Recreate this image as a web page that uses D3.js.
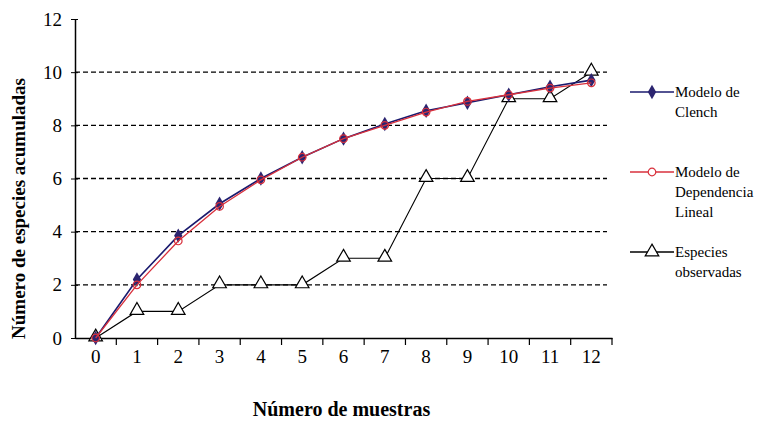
<!DOCTYPE html>
<html>
<head>
<meta charset="utf-8">
<title>Curvas de acumulación de especies</title>
<style type="text/css">
body { margin: 0; background: #fff; }
text { font-family: "Liberation Serif", "Times New Roman", serif; fill: #000; }
.axis path, .axis line { stroke: #000; }
.grid line { stroke: #000; stroke-dasharray: 5,3; stroke-width: 1.4px; }
</style>
<script src="https://cdn.jsdelivr.net/npm/d3@7"></script>
</head>
<body>
<svg width="769" height="429"></svg>
<script type="text/javascript">

// datos
var muestras = ["0","1","2","3","4","5","6","7","8","9","10","11","12"];
var clench = [0, 2.2, 3.85, 5.05, 6.0, 6.8, 7.5, 8.05, 8.55, 8.85, 9.15, 9.45, 9.7];
var lineal = [0, 2.0, 3.65, 4.95, 5.95, 6.8, 7.5, 8.0, 8.5, 8.9, 9.15, 9.4, 9.6];
var observadas = [0, 1, 1, 2, 2, 2, 3, 3, 6, 6, 9, 9, 10];
var yTicks = [0, 2, 4, 6, 8, 10, 12];

var svg = d3.select("svg"),
    margin = {top: 19, right: 157, bottom: 91, left: 75},
    width = svg.attr("width") - margin.left - margin.right,
    height = svg.attr("height") - margin.top - margin.bottom,
    g = svg.append("g").attr("transform", "translate(" + margin.left + "," + margin.top + ")");

var x = d3.scaleBand().domain(muestras).range([0, width]),
    y = d3.scaleLinear().domain([0, 12]).range([height, 0]);

function cx(d, i) { return x(muestras[i]) + x.bandwidth() / 2; }

// lineas de division
g.append("g")
  .attr("class", "grid")
  .selectAll("line")
  .data(yTicks.filter(function(d) { return d > 0 && d < 12; }))
  .enter().append("line")
  .attr("x1", 0)
  .attr("x2", width - 5)
  .attr("y1", function(d) { return y(d); })
  .attr("y2", function(d) { return y(d); });

// eje y
var yAxis = g.append("g")
  .attr("class", "axis")
  .call(d3.axisLeft(y).tickValues(yTicks).tickSizeInner(5).tickSizeOuter(0).tickPadding(8));
yAxis.selectAll("text").style("font-size", "19px");
yAxis.selectAll(".tick line").attr("x2", 3).attr("x1", -4);
yAxis.select(".domain").attr("stroke-width", 1.5);

// eje x
var xAxis = g.append("g")
  .attr("class", "axis")
  .attr("transform", "translate(0," + height + ")")
  .call(d3.axisBottom(x).tickSize(0).tickPadding(12));
xAxis.selectAll("text").style("font-size", "19px");
xAxis.select(".domain").attr("stroke-width", 1.5);
xAxis.selectAll(".sep")
  .data(muestras.slice(1).concat(["end"]))
  .enter().append("line")
  .attr("class", "sep")
  .attr("stroke", "#000")
  .attr("stroke-width", 1.2)
  .attr("x1", function(d, i) { return x.bandwidth() * (i + 1); })
  .attr("x2", function(d, i) { return x.bandwidth() * (i + 1); })
  .attr("y1", 0)
  .attr("y2", 7);

// titulos
svg.append("text")
  .attr("x", margin.left + width / 2 - 2)
  .attr("y", 416)
  .attr("text-anchor", "middle")
  .style("font-size", "20px")
  .style("font-weight", "bold")
  .text("Número de muestras");

svg.append("text")
  .attr("transform", "translate(25," + (margin.top + height / 2 + 30) + ") rotate(-90)")
  .attr("text-anchor", "middle")
  .style("font-size", "19px")
  .style("font-weight", "bold")
  .text("Número de especies acumuladas");

var line = d3.line()
  .x(function(d, i) { return cx(d, i); })
  .y(function(d) { return y(d); });

var diamond = d3.symbol().type(d3.symbolDiamond).size(60),
    circle = d3.symbol().type(d3.symbolCircle).size(45),
    triangle = d3.symbol().type(d3.symbolTriangle).size(80);

// especies observadas
g.append("path").datum(observadas)
  .attr("fill", "none").attr("stroke", "#000").attr("stroke-width", 1.1)
  .attr("d", line);
g.selectAll(".tri").data(observadas).enter().append("path")
  .attr("class", "tri")
  .attr("transform", function(d, i) { return "translate(" + cx(d, i) + "," + (y(d) - 1) + ")"; })
  .attr("d", triangle)
  .attr("fill", "#fff").attr("stroke", "#000").attr("stroke-width", 1.2);

// modelo de Clench
g.append("path").datum(clench)
  .attr("fill", "none").attr("stroke", "#1a1a6e").attr("stroke-width", 1.6)
  .attr("d", line);
g.selectAll(".dia").data(clench).enter().append("path")
  .attr("class", "dia")
  .attr("transform", function(d, i) { return "translate(" + cx(d, i) + "," + y(d) + ")"; })
  .attr("d", diamond)
  .attr("fill", "#2b2470");

// modelo de dependencia lineal
g.append("path").datum(lineal)
  .attr("fill", "none").attr("stroke", "#d8303c").attr("stroke-width", 1.3)
  .attr("d", line);
g.selectAll(".cir").data(lineal).enter().append("path")
  .attr("class", "cir")
  .attr("transform", function(d, i) { return "translate(" + cx(d, i) + "," + y(d) + ")"; })
  .attr("d", circle)
  .attr("fill", "none").attr("stroke", "#d8303c").attr("stroke-width", 1.2);

// leyenda
var leyenda = [
  {nombre: ["Modelo de", "Clench"], color: "#1a1a6e", sym: diamond, fill: "#2b2470", y: 92},
  {nombre: ["Modelo de", "Dependencia", "Lineal"], color: "#d8303c", sym: circle, fill: "#fff", y: 172},
  {nombre: ["Especies", "observadas"], color: "#000", sym: triangle, fill: "#fff", y: 252}
];

var lg = svg.selectAll(".leg").data(leyenda).enter().append("g")
  .attr("class", "leg")
  .attr("transform", function(d) { return "translate(630," + d.y + ")"; });
lg.append("line")
  .attr("x1", 0).attr("x2", 44).attr("y1", 0).attr("y2", 0)
  .attr("stroke", function(d) { return d.color; }).attr("stroke-width", 1.5);
lg.append("path")
  .attr("transform", "translate(22,0)")
  .attr("d", function(d) { return d.sym(); })
  .attr("fill", function(d) { return d.fill; })
  .attr("stroke", function(d) { return d.color === "#1a1a6e" ? "none" : d.color; })
  .attr("stroke-width", 1.2);
lg.each(function(d) {
  var t = d3.select(this).append("text")
    .attr("x", 45).attr("y", 5)
    .style("font-size", "15px");
  d.nombre.forEach(function(s, k) {
    t.append("tspan").attr("x", 45).attr("dy", k === 0 ? 0 : 20).text(s);
  });
});

</script>
</body>
</html>
